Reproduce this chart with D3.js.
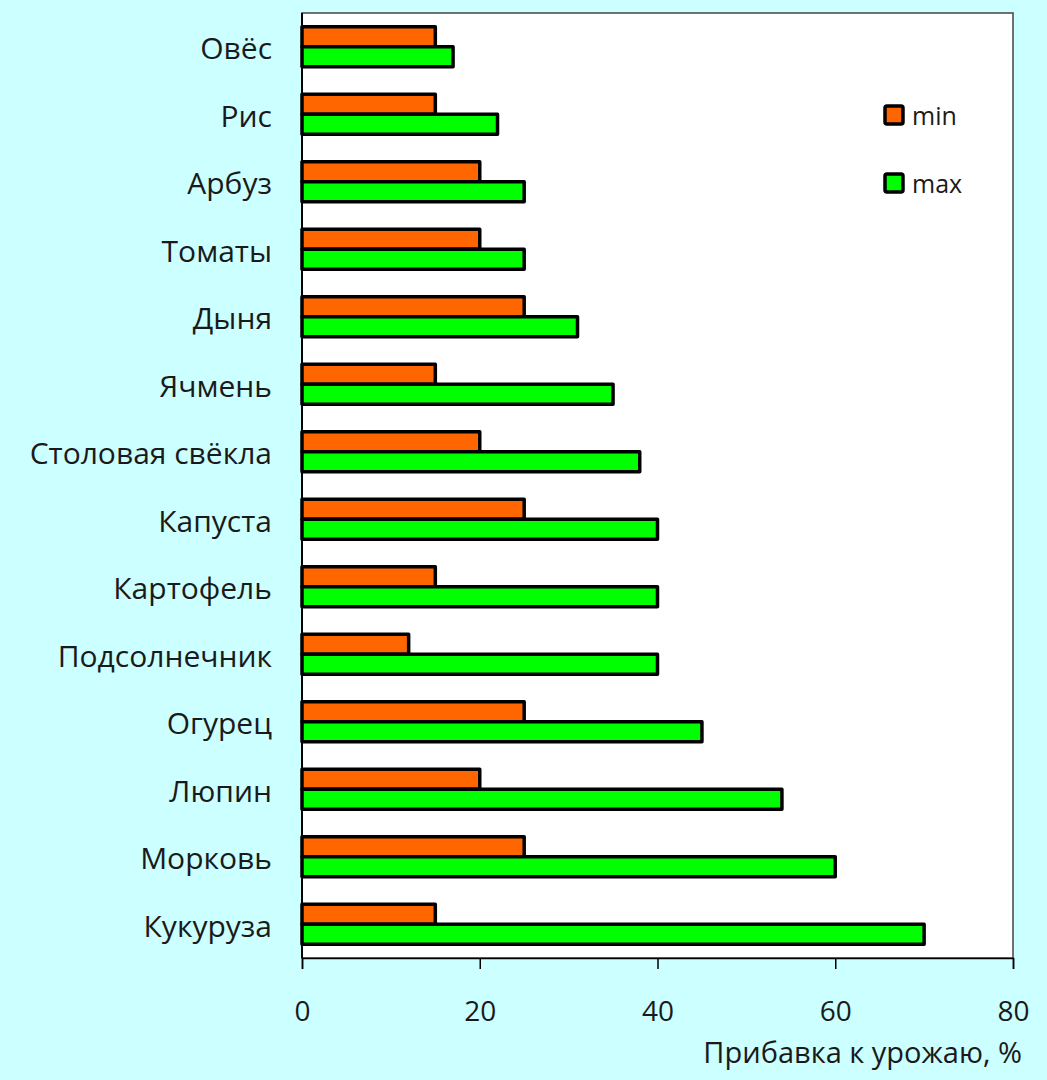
<!DOCTYPE html>
<html><head><meta charset="utf-8">
<script src="https://cdn.jsdelivr.net/npm/d3@7"></script>
<style>
html,body{margin:0;padding:0;background:#ccffff;}
svg{display:block;}
text{font-family:"Open Sans",sans-serif;fill:#1a1a1a;}
</style></head><body>
<script>
const categories = ["Овёс","Рис","Арбуз","Томаты","Дыня","Ячмень","Столовая свёкла","Капуста","Картофель","Подсолнечник","Огурец","Люпин","Морковь","Кукуруза"];
const minValues = [15,15,20,20,25,15,20,25,15,12,25,20,25,15];
const maxValues = [17,22,25,25,31,35,38,40,40,40,45,54,60,70];
const seriesNames = ["min","max"];
const seriesColors = ["#ff6600","#00ff00"];
const xTicks = [0,20,40,60,80];
const xTitle = "Прибавка к урожаю, %";

const W = 1047, H = 1080;
const L = 302, R = 1013, T = 13, B = 958;

const svg = d3.select("body").append("svg").attr("width", W).attr("height", H);
svg.append("rect").attr("width", W).attr("height", H).attr("fill", "#ccffff");

const x = d3.scaleLinear().domain([0, 80]).range([L, R]);
const y = d3.scaleBand().domain(categories).range([T, B]).paddingInner(0.407).paddingOuter(0.2035);
const ySub = d3.scaleBand().domain(seriesNames).range([0, y.bandwidth()]);

// plot area
svg.append("rect").attr("x", L).attr("y", T).attr("width", R - L).attr("height", B - T)
  .attr("fill", "#ffffff").attr("stroke", "#444").attr("stroke-width", 1.5);

const rows = categories.map((c, i) => ({cat: c, vals: [minValues[i], maxValues[i]]}));

const g = svg.append("g");
rows.forEach(r => {
  r.vals.forEach((v, k) => {
    g.append("rect")
      .attr("x", x(0))
      .attr("y", y(r.cat) + ySub(seriesNames[k]))
      .attr("width", x(v) - x(0))
      .attr("height", ySub.bandwidth())
      .attr("fill", seriesColors[k])
      .attr("stroke", "#000").attr("stroke-width", 3.5)
      .attr("stroke-linejoin", "round");
  });
});

// category labels
svg.append("g").selectAll("text").data(categories).join("text")
  .attr("x", 272).attr("y", d => y(d) + y.bandwidth() / 2 + 1)
  .attr("text-anchor", "end").attr("dominant-baseline", "central")
  .attr("font-size", 30).text(d => d);

// x axis
const xAxis = svg.append("g").attr("transform", `translate(0,${B})`)
  .call(d3.axisBottom(x).tickValues(xTicks).tickSize(11).tickPadding(32));
xAxis.select(".domain").attr("stroke", "#000").attr("stroke-width", 1.5);
xAxis.selectAll(".tick line").attr("stroke", "#000").attr("stroke-width", 1.5);
xAxis.selectAll(".tick text").attr("font-size", 28).attr("font-family", "Open Sans, sans-serif").attr("fill", "#1a1a1a");

// left axis line
svg.append("line").attr("x1", L).attr("x2", L).attr("y1", T).attr("y2", B).attr("stroke", "#000").attr("stroke-width", 2);

// axis title
svg.append("text").attr("x", 1022).attr("y", 1063).attr("text-anchor", "end")
  .attr("font-size", 29).text(xTitle);

// legend
const leg = svg.append("g");
seriesNames.forEach((s, k) => {
  const cy = 115 + k * 68;
  leg.append("rect").attr("x", 885).attr("y", cy - 9).attr("width", 18).attr("height", 18)
    .attr("rx", 2).attr("fill", seriesColors[k]).attr("stroke", "#000").attr("stroke-width", 3.5);
  leg.append("text").attr("x", 912).attr("y", cy).attr("dominant-baseline", "central")
    .attr("font-size", 25).text(s);
});
</script>
</body></html>
